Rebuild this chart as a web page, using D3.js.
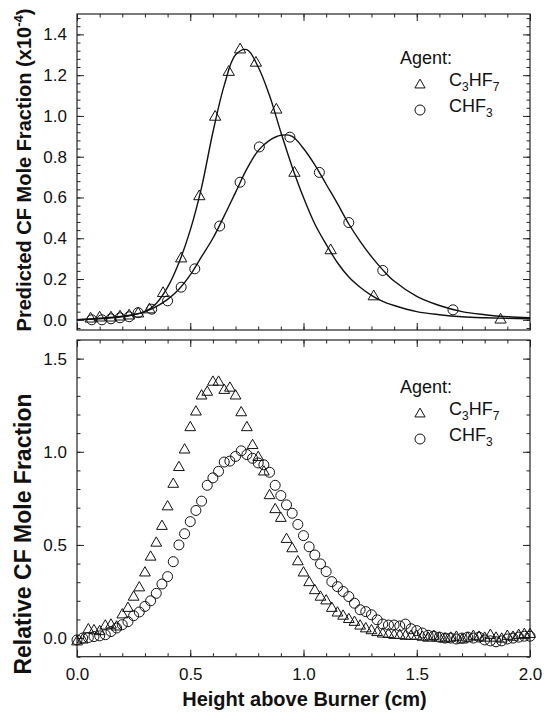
<!DOCTYPE html>
<html>
<head>
<meta charset="utf-8">
<script src="https://cdn.jsdelivr.net/npm/d3@7"></script>
<style>
  body { margin: 0; background: #fff; }
  text { font-family: "Liberation Sans", Arial, Helvetica, sans-serif; fill: #111; }
</style>
</head>
<body>
<div id="chart"></div>
<script>
'use strict';

// ---- Top panel: predicted CF mole fraction (x1e-4), markers + model curves
const predC3Height = [0.06, 0.10, 0.15, 0.19, 0.23, 0.27, 0.32, 0.38, 0.46, 0.54, 0.61, 0.67, 0.72, 0.79, 0.88, 0.96, 1.12, 1.31, 1.87];
const predC3Value  = [0.005, 0.01, 0.01, 0.015, 0.02, 0.03, 0.05, 0.13, 0.30, 0.605, 0.995, 1.215, 1.325, 1.26, 1.03, 0.72, 0.34, 0.114, 0.0];
const predCHHeight = [0.065, 0.11, 0.15, 0.19, 0.23, 0.27, 0.33, 0.40, 0.46, 0.52, 0.63, 0.72, 0.805, 0.94, 1.07, 1.20, 1.35, 1.66];
const predCHValue  = [0.0, 0.0, 0.005, 0.01, 0.015, 0.035, 0.052, 0.093, 0.16, 0.25, 0.46, 0.675, 0.848, 0.896, 0.723, 0.477, 0.242, 0.049];

// model curves
const curveHeight = [0, 0.1, 0.2, 0.25, 0.3, 0.35, 0.4, 0.45, 0.5, 0.55, 0.6, 0.65, 0.7, 0.75, 0.8, 0.85, 0.9, 0.95,
                     1.0, 1.05, 1.1, 1.15, 1.2, 1.25, 1.3, 1.35, 1.4, 1.5, 1.6, 1.7, 1.8, 1.9, 2.0];
const curveC3 = [0, 0.008, 0.018, 0.025, 0.04, 0.08, 0.16, 0.28, 0.44, 0.65, 0.92, 1.15, 1.30, 1.325, 1.24, 1.1, 0.92, 0.75,
                 0.6, 0.47, 0.37, 0.28, 0.21, 0.16, 0.12, 0.09, 0.07, 0.04, 0.025, 0.015, 0.01, 0.007, 0.005];
const curveCH = [0, 0.005, 0.015, 0.025, 0.04, 0.065, 0.1, 0.15, 0.22, 0.31, 0.40, 0.51, 0.625, 0.74, 0.83, 0.88, 0.905, 0.9,
                 0.84, 0.76, 0.665, 0.57, 0.47, 0.385, 0.31, 0.245, 0.19, 0.115, 0.07, 0.04, 0.025, 0.015, 0.01];

// ---- Bottom panel: measured relative CF mole fraction
const measHeight = [0, 0.025, 0.05, 0.075, 0.1, 0.125, 0.15, 0.175, 0.2, 0.225, 0.25, 0.275, 0.3, 0.325, 0.35, 0.375,
  0.4, 0.425, 0.45, 0.475, 0.5, 0.525, 0.55, 0.575, 0.6, 0.625, 0.65, 0.675, 0.7, 0.725, 0.75, 0.775,
  0.8, 0.825, 0.85, 0.875, 0.9, 0.925, 0.95, 0.975, 1.0, 1.025, 1.05, 1.075, 1.1, 1.125, 1.15, 1.175,
  1.2, 1.225, 1.25, 1.275, 1.3, 1.325, 1.35, 1.375, 1.4, 1.425, 1.45, 1.475, 1.5, 1.525, 1.55, 1.575,
  1.6, 1.625, 1.65, 1.675, 1.7, 1.725, 1.75, 1.775, 1.8, 1.825, 1.85, 1.875, 1.9, 1.925, 1.95, 1.975, 2.0];
const measC3 = [-0.02, -0.01, 0.045, 0.04, 0.035, 0.065, 0.07, 0.06, 0.125, 0.16, 0.22, 0.27, 0.35, 0.435, 0.51, 0.60,
  0.705, 0.826, 0.916, 1.01, 1.13, 1.214, 1.30, 1.32, 1.374, 1.374, 1.33, 1.342, 1.30, 1.21, 1.13, 1.034,
  0.97, 0.892, 0.765, 0.69, 0.643, 0.53, 0.48, 0.41, 0.35, 0.298, 0.255, 0.22, 0.2, 0.16, 0.135, 0.118,
  0.1, 0.085, 0.065, 0.05, 0.04, 0.03, 0.022, 0.02, 0.015, 0.015, 0.01, 0.01, 0.01, 0.005, 0.0, 0.01,
  0.0, -0.005, 0.0, 0.005, -0.01, 0.0, 0.01, 0.005, 0.0, 0.015, 0.0, -0.005, 0.01, 0.005, 0.015, 0.02, 0.02];
const measCH = [-0.01, 0.0, 0.003, 0.008, 0.012, 0.018, 0.035, 0.054, 0.072, 0.088, 0.12, 0.14, 0.17, 0.2, 0.24, 0.29,
  0.33, 0.41, 0.5, 0.56, 0.625, 0.685, 0.735, 0.82, 0.86, 0.895, 0.945, 0.95, 0.975, 1.005, 0.985, 0.965,
  0.94, 0.93, 0.89, 0.82, 0.765, 0.715, 0.67, 0.61, 0.55, 0.49, 0.446, 0.398, 0.357, 0.303, 0.276, 0.25,
  0.223, 0.187, 0.152, 0.142, 0.125, 0.098, 0.075, 0.07, 0.07, 0.065, 0.075, 0.05, 0.04, 0.027, 0.015, 0.01,
  0.005, 0.0, 0.0, -0.005, 0.0, 0.005, 0.0, 0.005, -0.01, -0.015, -0.02, -0.015, -0.005, 0.0, 0.005, 0.01, 0.01];

// axis ticks
const xTicks = [0, 0.5, 1.0, 1.5, 2.0];
const topYTicks = [0, 0.2, 0.4, 0.6, 0.8, 1.0, 1.2, 1.4];
const botYTicks = [0, 0.5, 1.0, 1.5];

const width = 544;
const height = 712;

const svg = d3.select("#chart").append("svg")
    .attr("width", width)
    .attr("height", height);

const left = 77, right = 530;
const x = d3.scaleLinear().domain([0, 2]).range([left, right]);

const yTop = d3.scaleLinear().domain([-0.05, 1.5]).range([330, 14]);
const yBot = d3.scaleLinear().domain([-0.1, 1.6]).range([656.7, 340]);

const fmt = d3.format(".1f");
const xMinor = d3.range(0, 2.001, 0.1).map(v => +v.toFixed(2));

// draw inward ticks on all four sides of a panel
function drawFrame(y, yMajor, yMinor, showX) {
  const [yb, yt] = y.range();
  const g = svg.append("g");

  // minor
  g.append("g").attr("transform", `translate(0,${yb})`)
    .call(d3.axisBottom(x).tickValues(xMinor).tickSize(-3.5).tickFormat(""));
  g.append("g").attr("transform", `translate(0,${yt})`)
    .call(d3.axisTop(x).tickValues(xMinor).tickSize(-3.5).tickFormat(""));
  g.append("g").attr("transform", `translate(${left},0)`)
    .call(d3.axisLeft(y).tickValues(yMinor).tickSize(-3.5).tickFormat(""));
  g.append("g").attr("transform", `translate(${right},0)`)
    .call(d3.axisRight(y).tickValues(yMinor).tickSize(-3.5).tickFormat(""));

  // major
  g.append("g").attr("class", "xb").attr("transform", `translate(0,${yb})`)
    .call(d3.axisBottom(x).tickValues(xTicks).tickSize(-7).tickPadding(11)
      .tickFormat(showX ? fmt : ""));
  g.append("g").attr("transform", `translate(0,${yt})`)
    .call(d3.axisTop(x).tickValues(xTicks).tickSize(-7).tickFormat(""));
  g.append("g").attr("class", "yl").attr("transform", `translate(${left},0)`)
    .call(d3.axisLeft(y).tickValues(yMajor).tickSize(-7).tickPadding(10).tickFormat(fmt));
  g.append("g").attr("transform", `translate(${right},0)`)
    .call(d3.axisRight(y).tickValues(yMajor).tickSize(-7).tickFormat(""));

  g.selectAll(".domain").remove();
  g.selectAll(".tick line").attr("stroke", "#222").attr("stroke-width", 1);
  g.selectAll(".tick text")
    .style("font-family", '"Liberation Sans", Arial, sans-serif')
    .style("font-size", "17px")
    .attr("fill", "#111");

  g.append("rect")
    .attr("x", left).attr("y", yt)
    .attr("width", right - left).attr("height", yb - yt)
    .attr("fill", "none").attr("stroke", "#222").attr("stroke-width", 1.2);
}

drawFrame(yTop, topYTicks, d3.range(-0.04, 1.49, 0.04).map(v => +v.toFixed(2)), false);
drawFrame(yBot, botYTicks, d3.range(-0.1, 1.61, 0.1).map(v => +v.toFixed(2)), true);

const tri = d3.symbol().type(d3.symbolTriangle);

function drawTriangles(y, xs, ys, size) {
  svg.append("g").selectAll("path")
    .data(xs.map((h, i) => [h, ys[i]]))
    .enter().append("path")
    .attr("transform", d => `translate(${x(d[0])},${y(d[1])})`)
    .attr("d", tri.size(size))
    .attr("fill", "none").attr("stroke", "#111").attr("stroke-width", 1);
}

function drawCircles(y, xs, ys, r) {
  svg.append("g").selectAll("circle")
    .data(xs.map((h, i) => [h, ys[i]]))
    .enter().append("circle")
    .attr("cx", d => x(d[0]))
    .attr("cy", d => y(d[1]))
    .attr("r", r)
    .attr("fill", "none").attr("stroke", "#111").attr("stroke-width", 1);
}

// top panel curves
const line = d3.line()
    .x(d => x(d[0]))
    .y(d => yTop(d[1]))
    .curve(d3.curveCatmullRom.alpha(0.5));

[curveC3, curveCH].forEach(vals => {
  svg.append("path")
    .datum(curveHeight.map((h, i) => [h, vals[i]]))
    .attr("d", line)
    .attr("fill", "none").attr("stroke", "#111").attr("stroke-width", 1.4);
});

drawTriangles(yTop, predC3Height, predC3Value, 55);
drawCircles(yTop, predCHHeight, predCHValue, 5);

// bottom panel markers
drawCircles(yBot, measHeight, measCH, 5);
drawTriangles(yBot, measHeight, measC3, 50);

// legends
function legend(yAgent) {
  const g = svg.append("g");
  g.append("text").attr("x", 400).attr("y", yAgent).style("font-size", "18px").text("Agent:");

  g.append("path")
    .attr("transform", `translate(420,${yAgent + 21})`)
    .attr("d", tri.size(45))
    .attr("fill", "none").attr("stroke", "#111");
  const t1 = g.append("text").attr("x", 449).attr("y", yAgent + 22).style("font-size", "18px");
  t1.append("tspan").text("C");
  t1.append("tspan").attr("dy", 5).style("font-size", "12px").text("3");
  t1.append("tspan").attr("dy", -5).text("HF");
  t1.append("tspan").attr("dy", 5).style("font-size", "12px").text("7");

  g.append("circle").attr("cx", 420).attr("cy", yAgent + 46).attr("r", 5)
    .attr("fill", "none").attr("stroke", "#111");
  const t2 = g.append("text").attr("x", 449).attr("y", yAgent + 48).style("font-size", "18px");
  t2.append("tspan").text("CHF");
  t2.append("tspan").attr("dy", 5).style("font-size", "12px").text("3");
}
legend(64);
legend(393);

// axis titles
svg.append("text")
    .attr("transform", "translate(31,170) rotate(-90)")
    .attr("text-anchor", "middle")
    .style("font-size", "20px").style("font-weight", "bold")
    .call(t => {
      t.append("tspan").text("Predicted CF Mole Fraction (x10");
      t.append("tspan").attr("dy", -8).style("font-size", "13px").text("-4");
      t.append("tspan").attr("dy", 8).text(")");
    });

svg.append("text")
    .attr("transform", "translate(31,534) rotate(-90)")
    .attr("text-anchor", "middle")
    .style("font-size", "23px").style("font-weight", "bold")
    .text("Relative CF Mole Fraction");

svg.append("text")
    .attr("x", 304.5).attr("y", 706)
    .attr("text-anchor", "middle")
    .style("font-size", "20px").style("font-weight", "bold")
    .text("Height above Burner (cm)");
</script>
</body>
</html>
